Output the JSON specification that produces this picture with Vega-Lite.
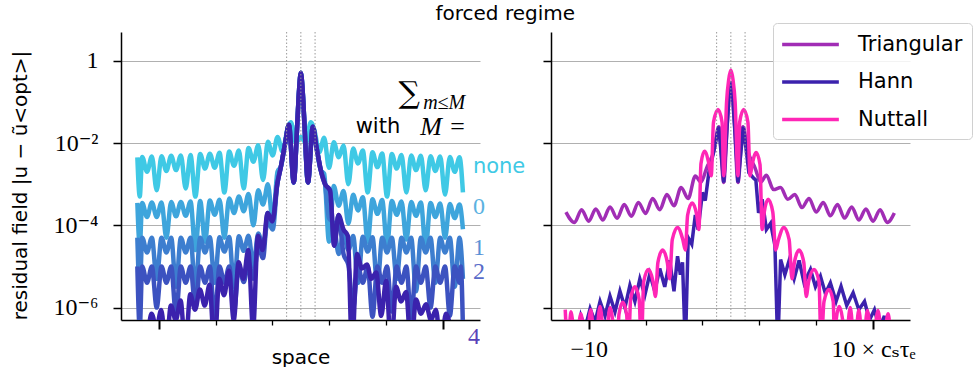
{
"$schema":"https://vega.github.io/schema/vega-lite/v6.json",
"background":"white",
"padding":{"left":10,"top":3,"right":0,"bottom":0},
"title":{"text":"forced regime","font":"DejaVu Sans","fontSize":20,"fontWeight":"normal","color":"black","anchor":"middle","offset":-1,"dx":14},
"spacing":71,
"bounds":"flush",
"resolve":{"scale":{"color":"independent"}},
"config":{"view":{"stroke":null},
 "axis":{"domainColor":"black","domainWidth":1.5,"tickColor":"black","grid":false,"labelFont":"Liberation Serif, DejaVu Serif","labelFontSize":24,"labelColor":"black","titleFont":"DejaVu Sans","titleFontSize":20,"titleFontWeight":"normal","titleColor":"black","labelFlush":false,"labelOverlap":false}},
"datasets":{
"V":[{"x":-1},{"x":0},{"x":1}],
"T":[{"s":"none","x":12.1,"y":2.67e-3},{"s":"0","x":12.1,"y":2.86e-4},{"s":"1","x":12.1,"y":2.89e-5},{"s":"2","x":12.1,"y":7.15e-6},{"s":"4","x":11.75,"y":1.89e-7}],
"A":[{"t":"∑","x":7.62,"y":0.158},{"t":"m≤M","x":8.6,"y":0.095},{"t":"with","x":6.99,"y":0.0243},{"t":"M =","x":8.4,"y":0.0243}],
"L":[
{"s":"none","x":-11.5,"y":4.5e-3},{"s":"none","x":-11.33,"y":5.0e-4},{"s":"none","x":-11.16,"y":4.6e-3},{"s":"none","x":-10.82,"y":2.0e-3},{"s":"none","x":-10.48,"y":4.7e-3},{"s":"none","x":-10.14,"y":7.1e-4},{"s":"none","x":-9.8,"y":4.8e-3},{"s":"none","x":-9.46,"y":2.1e-3},{"s":"none","x":-9.12,"y":4.9e-3},{"s":"none","x":-8.78,"y":2.2e-3},{"s":"none","x":-8.44,"y":5.0e-3},{"s":"none","x":-8.1,"y":7.9e-4},{"s":"none","x":-7.76,"y":5.1e-3},{"s":"none","x":-7.42,"y":5.0e-4},{"s":"none","x":-7.08,"y":5.4e-3},{"s":"none","x":-6.74,"y":2.4e-3},{"s":"none","x":-6.4,"y":5.5e-3},{"s":"none","x":-6.06,"y":2.5e-3},{"s":"none","x":-5.72,"y":5.8e-3},{"s":"none","x":-5.38,"y":6.3e-4},{"s":"none","x":-5.04,"y":6.2e-3},{"s":"none","x":-4.7,"y":2.8e-3},{"s":"none","x":-4.36,"y":6.6e-3},{"s":"none","x":-4.02,"y":7.9e-4},{"s":"none","x":-3.68,"y":7.6e-3},{"s":"none","x":-3.34,"y":3.5e-3},{"s":"none","x":-3.0,"y":8.9e-3},{"s":"none","x":-2.66,"y":1.26e-3},{"s":"none","x":-2.32,"y":1.07e-2},{"s":"none","x":-1.98,"y":5.0e-3},{"s":"none","x":-1.64,"y":1.41e-2},{"s":"none","x":-1.3,"y":6.3e-3},{"s":"none","x":-0.96,"y":2.0e-2},{"s":"none","x":-0.7,"y":3.2e-2},{"s":"none","x":-0.35,"y":1.0e-2},{"s":"none","x":0,"y":1.4e-2},{"s":"none","x":0.35,"y":1.0e-2},{"s":"none","x":0.7,"y":3.2e-2},{"s":"none","x":0.96,"y":2.0e-2},{"s":"none","x":1.3,"y":6.0e-3},{"s":"none","x":1.64,"y":1.35e-2},{"s":"none","x":1.98,"y":2.5e-3},{"s":"none","x":2.32,"y":1.05e-2},{"s":"none","x":2.66,"y":4.5e-3},{"s":"none","x":3.0,"y":8.7e-3},{"s":"none","x":3.34,"y":1.0e-3},{"s":"none","x":3.68,"y":7.4e-3},{"s":"none","x":4.02,"y":3.2e-3},{"s":"none","x":4.36,"y":6.6e-3},{"s":"none","x":4.7,"y":6.3e-4},{"s":"none","x":5.04,"y":6.0e-3},{"s":"none","x":5.38,"y":2.6e-3},{"s":"none","x":5.72,"y":5.6e-3},{"s":"none","x":6.06,"y":5.0e-4},{"s":"none","x":6.4,"y":5.4e-3},{"s":"none","x":6.74,"y":2.4e-3},{"s":"none","x":7.08,"y":5.1e-3},{"s":"none","x":7.42,"y":6.3e-4},{"s":"none","x":7.76,"y":5.0e-3},{"s":"none","x":8.1,"y":2.2e-3},{"s":"none","x":8.44,"y":4.9e-3},{"s":"none","x":8.78,"y":7.1e-4},{"s":"none","x":9.12,"y":4.8e-3},{"s":"none","x":9.46,"y":2.1e-3},{"s":"none","x":9.8,"y":4.7e-3},{"s":"none","x":10.14,"y":5.6e-4},{"s":"none","x":10.48,"y":4.6e-3},{"s":"none","x":10.82,"y":2.0e-3},{"s":"none","x":11.16,"y":4.5e-3},{"s":"none","x":11.4,"y":6.3e-4},
{"s":"0","x":-11.5,"y":3.5e-4},{"s":"0","x":-11.33,"y":3.2e-5},{"s":"0","x":-11.16,"y":3.5e-4},{"s":"0","x":-10.82,"y":1.6e-4},{"s":"0","x":-10.48,"y":3.6e-4},{"s":"0","x":-10.14,"y":1.6e-4},{"s":"0","x":-9.8,"y":3.6e-4},{"s":"0","x":-9.46,"y":5.0e-5},{"s":"0","x":-9.12,"y":3.7e-4},{"s":"0","x":-8.78,"y":1.66e-4},{"s":"0","x":-8.44,"y":3.7e-4},{"s":"0","x":-8.1,"y":1.7e-4},{"s":"0","x":-7.76,"y":3.8e-4},{"s":"0","x":-7.42,"y":2.5e-5},{"s":"0","x":-7.08,"y":3.9e-4},{"s":"0","x":-6.74,"y":4.0e-5},{"s":"0","x":-6.4,"y":4.0e-4},{"s":"0","x":-6.06,"y":1.8e-4},{"s":"0","x":-5.72,"y":4.2e-4},{"s":"0","x":-5.38,"y":5.0e-5},{"s":"0","x":-5.04,"y":4.5e-4},{"s":"0","x":-4.7,"y":2.0e-4},{"s":"0","x":-4.36,"y":5.0e-4},{"s":"0","x":-4.02,"y":2.2e-4},{"s":"0","x":-3.68,"y":5.8e-4},{"s":"0","x":-3.34,"y":1.0e-4},{"s":"0","x":-3.0,"y":7.1e-4},{"s":"0","x":-2.66,"y":3.2e-4},{"s":"0","x":-2.32,"y":1.0e-3},{"s":"0","x":-1.98,"y":1.26e-4},{"s":"0","x":-1.64,"y":2.0e-3},{"s":"0","x":-1.4,"y":2.7e-3},{"s":"0","x":-1.1,"y":1.0e-2},{"s":"0","x":-0.84,"y":2.8e-2},{"s":"0","x":-0.5,"y":1.1e-3},{"s":"0","x":-0.25,"y":3.0e-2},{"s":"0","x":-0.12,"y":0.2},{"s":"0","x":0,"y":0.51},{"s":"0","x":0.12,"y":0.2},{"s":"0","x":0.25,"y":3.0e-2},{"s":"0","x":0.5,"y":1.1e-3},{"s":"0","x":0.84,"y":2.5e-2},{"s":"0","x":1.1,"y":7.9e-3},{"s":"0","x":1.4,"y":2.2e-3},{"s":"0","x":1.64,"y":1.8e-3},{"s":"0","x":1.98,"y":4.0e-5},{"s":"0","x":2.32,"y":9.0e-4},{"s":"0","x":2.66,"y":3.0e-4},{"s":"0","x":3.0,"y":6.8e-4},{"s":"0","x":3.34,"y":1.1e-4},{"s":"0","x":3.68,"y":5.5e-4},{"s":"0","x":4.02,"y":2.3e-4},{"s":"0","x":4.36,"y":4.8e-4},{"s":"0","x":4.7,"y":4.0e-5},{"s":"0","x":5.04,"y":4.3e-4},{"s":"0","x":5.38,"y":1.9e-4},{"s":"0","x":5.72,"y":4.1e-4},{"s":"0","x":6.06,"y":3.2e-5},{"s":"0","x":6.4,"y":3.9e-4},{"s":"0","x":6.74,"y":1.8e-4},{"s":"0","x":7.08,"y":3.8e-4},{"s":"0","x":7.42,"y":4.5e-5},{"s":"0","x":7.76,"y":3.7e-4},{"s":"0","x":8.1,"y":1.7e-4},{"s":"0","x":8.44,"y":3.6e-4},{"s":"0","x":8.78,"y":2.8e-5},{"s":"0","x":9.12,"y":3.5e-4},{"s":"0","x":9.46,"y":1.6e-4},{"s":"0","x":9.8,"y":3.4e-4},{"s":"0","x":10.14,"y":5.0e-5},{"s":"0","x":10.48,"y":3.3e-4},{"s":"0","x":10.82,"y":1.5e-4},{"s":"0","x":11.16,"y":3.2e-4},{"s":"0","x":11.4,"y":8.0e-5},
{"s":"1","x":-11.5,"y":5.0e-5},{"s":"1","x":-11.33,"y":2.5e-6},{"s":"1","x":-11.16,"y":5.0e-5},{"s":"1","x":-10.82,"y":2.2e-5},{"s":"1","x":-10.48,"y":5.0e-5},{"s":"1","x":-10.14,"y":5.0e-6},{"s":"1","x":-9.8,"y":5.0e-5},{"s":"1","x":-9.46,"y":2.2e-5},{"s":"1","x":-9.12,"y":5.0e-5},{"s":"1","x":-8.78,"y":3.2e-6},{"s":"1","x":-8.44,"y":5.0e-5},{"s":"1","x":-8.1,"y":2.2e-5},{"s":"1","x":-7.76,"y":5.0e-5},{"s":"1","x":-7.42,"y":2.5e-6},{"s":"1","x":-7.08,"y":5.0e-5},{"s":"1","x":-6.74,"y":2.2e-5},{"s":"1","x":-6.4,"y":5.1e-5},{"s":"1","x":-6.06,"y":4.0e-6},{"s":"1","x":-5.72,"y":5.1e-5},{"s":"1","x":-5.38,"y":2.3e-5},{"s":"1","x":-5.04,"y":5.2e-5},{"s":"1","x":-4.7,"y":3.2e-6},{"s":"1","x":-4.36,"y":5.4e-5},{"s":"1","x":-4.02,"y":2.4e-5},{"s":"1","x":-3.68,"y":5.6e-5},{"s":"1","x":-3.34,"y":1.0e-5},{"s":"1","x":-3.0,"y":6.3e-5},{"s":"1","x":-2.66,"y":3.2e-5},{"s":"1","x":-2.32,"y":1.26e-4},{"s":"1","x":-1.98,"y":7.9e-5},{"s":"1","x":-1.66,"y":1.0e-3},{"s":"1","x":-1.4,"y":2.7e-3},{"s":"1","x":-1.1,"y":1.0e-2},{"s":"1","x":-0.84,"y":2.8e-2},{"s":"1","x":-0.5,"y":1.1e-3},{"s":"1","x":-0.25,"y":3.0e-2},{"s":"1","x":-0.12,"y":0.2},{"s":"1","x":0,"y":0.51},{"s":"1","x":0.12,"y":0.2},{"s":"1","x":0.25,"y":3.0e-2},{"s":"1","x":0.5,"y":1.1e-3},{"s":"1","x":0.84,"y":2.5e-2},{"s":"1","x":1.1,"y":7.9e-3},{"s":"1","x":1.4,"y":2.2e-3},{"s":"1","x":1.7,"y":1.0e-3},{"s":"1","x":1.98,"y":1.5e-4},{"s":"1","x":2.32,"y":1.1e-4},{"s":"1","x":2.66,"y":2.0e-5},{"s":"1","x":3.0,"y":6.0e-5},{"s":"1","x":3.34,"y":2.5e-5},{"s":"1","x":3.68,"y":5.5e-5},{"s":"1","x":4.02,"y":4.0e-6},{"s":"1","x":4.36,"y":5.3e-5},{"s":"1","x":4.7,"y":2.3e-5},{"s":"1","x":5.04,"y":5.1e-5},{"s":"1","x":5.38,"y":3.2e-6},{"s":"1","x":5.72,"y":5.0e-5},{"s":"1","x":6.06,"y":2.2e-5},{"s":"1","x":6.4,"y":5.0e-5},{"s":"1","x":6.74,"y":5.0e-6},{"s":"1","x":7.08,"y":5.0e-5},{"s":"1","x":7.42,"y":2.2e-5},{"s":"1","x":7.76,"y":5.0e-5},{"s":"1","x":8.1,"y":2.5e-6},{"s":"1","x":8.44,"y":5.0e-5},{"s":"1","x":8.78,"y":2.2e-5},{"s":"1","x":9.12,"y":5.0e-5},{"s":"1","x":9.46,"y":4.0e-6},{"s":"1","x":9.8,"y":5.0e-5},{"s":"1","x":10.14,"y":2.2e-5},{"s":"1","x":10.48,"y":5.0e-5},{"s":"1","x":10.82,"y":3.2e-6},{"s":"1","x":11.16,"y":5.0e-5},{"s":"1","x":11.4,"y":5.0e-6},
{"s":"2","x":-11.5,"y":1.0e-5},{"s":"2","x":-11.33,"y":3.2e-7},{"s":"2","x":-11.16,"y":1.0e-5},{"s":"2","x":-10.82,"y":4.0e-6},{"s":"2","x":-10.48,"y":1.0e-5},{"s":"2","x":-10.14,"y":1.0e-6},{"s":"2","x":-9.8,"y":1.0e-5},{"s":"2","x":-9.46,"y":4.0e-6},{"s":"2","x":-9.12,"y":1.0e-5},{"s":"2","x":-8.78,"y":6.3e-7},{"s":"2","x":-8.44,"y":1.0e-5},{"s":"2","x":-8.1,"y":4.0e-6},{"s":"2","x":-7.76,"y":1.0e-5},{"s":"2","x":-7.42,"y":1.0e-6},{"s":"2","x":-7.08,"y":1.0e-5},{"s":"2","x":-6.74,"y":4.0e-6},{"s":"2","x":-6.4,"y":1.0e-5},{"s":"2","x":-6.06,"y":5.0e-7},{"s":"2","x":-5.72,"y":1.0e-5},{"s":"2","x":-5.38,"y":4.0e-6},{"s":"2","x":-5.04,"y":1.0e-5},{"s":"2","x":-4.7,"y":8.0e-7},{"s":"2","x":-4.36,"y":1.05e-5},{"s":"2","x":-4.02,"y":4.2e-6},{"s":"2","x":-3.68,"y":1.26e-5},{"s":"2","x":-3.34,"y":5.0e-6},{"s":"2","x":-3.0,"y":3.2e-5},{"s":"2","x":-2.66,"y":1.6e-5},{"s":"2","x":-2.34,"y":2.0e-4},{"s":"2","x":-2.0,"y":1.26e-4},{"s":"2","x":-1.66,"y":1.0e-3},{"s":"2","x":-1.4,"y":2.7e-3},{"s":"2","x":-1.1,"y":1.0e-2},{"s":"2","x":-0.84,"y":2.8e-2},{"s":"2","x":-0.5,"y":1.1e-3},{"s":"2","x":-0.25,"y":3.0e-2},{"s":"2","x":-0.12,"y":0.2},{"s":"2","x":0,"y":0.51},{"s":"2","x":0.12,"y":0.2},{"s":"2","x":0.25,"y":3.0e-2},{"s":"2","x":0.5,"y":1.1e-3},{"s":"2","x":0.84,"y":2.5e-2},{"s":"2","x":1.1,"y":7.9e-3},{"s":"2","x":1.4,"y":2.2e-3},{"s":"2","x":1.7,"y":1.0e-3},{"s":"2","x":2.05,"y":7.1e-4},{"s":"2","x":2.35,"y":3.2e-5},{"s":"2","x":2.65,"y":1.78e-4},{"s":"2","x":3.0,"y":2.0e-5},{"s":"2","x":3.34,"y":1.1e-5},{"s":"2","x":3.68,"y":1.0e-6},{"s":"2","x":4.02,"y":1.0e-5},{"s":"2","x":4.36,"y":4.0e-6},{"s":"2","x":4.7,"y":1.0e-5},{"s":"2","x":5.04,"y":6.0e-7},{"s":"2","x":5.38,"y":1.0e-5},{"s":"2","x":5.72,"y":4.0e-6},{"s":"2","x":6.06,"y":1.0e-5},{"s":"2","x":6.4,"y":8.0e-7},{"s":"2","x":6.74,"y":1.0e-5},{"s":"2","x":7.08,"y":4.0e-6},{"s":"2","x":7.42,"y":1.0e-5},{"s":"2","x":7.76,"y":5.0e-7},{"s":"2","x":8.1,"y":1.0e-5},{"s":"2","x":8.44,"y":4.0e-6},{"s":"2","x":8.78,"y":1.0e-5},{"s":"2","x":9.12,"y":1.0e-6},{"s":"2","x":9.46,"y":1.0e-5},{"s":"2","x":9.8,"y":4.0e-6},{"s":"2","x":10.14,"y":1.0e-5},{"s":"2","x":10.48,"y":6.3e-7},{"s":"2","x":10.82,"y":1.0e-5},{"s":"2","x":11.16,"y":4.0e-6},{"s":"2","x":11.25,"y":1.0e-5},{"s":"2","x":11.4,"y":3.2e-7},
{"s":"4","x":-10.8,"y":1.26e-7},{"s":"4","x":-10.5,"y":7.1e-7},{"s":"4","x":-10.16,"y":3.2e-7},{"s":"4","x":-9.82,"y":8.7e-7},{"s":"4","x":-9.48,"y":1.0e-7},{"s":"4","x":-9.14,"y":1.12e-6},{"s":"4","x":-8.8,"y":5.0e-7},{"s":"4","x":-8.46,"y":1.48e-6},{"s":"4","x":-8.12,"y":1.0e-7},{"s":"4","x":-7.78,"y":2.1e-6},{"s":"4","x":-7.44,"y":8.9e-7},{"s":"4","x":-7.1,"y":2.75e-6},{"s":"4","x":-6.76,"y":1.12e-6},{"s":"4","x":-6.42,"y":3.6e-6},{"s":"4","x":-6.08,"y":1.0e-7},{"s":"4","x":-5.74,"y":5.0e-6},{"s":"4","x":-5.4,"y":2.0e-6},{"s":"4","x":-5.06,"y":7.9e-6},{"s":"4","x":-4.72,"y":5.0e-7},{"s":"4","x":-4.38,"y":1.26e-5},{"s":"4","x":-4.04,"y":5.0e-6},{"s":"4","x":-3.7,"y":2.5e-5},{"s":"4","x":-3.36,"y":3.2e-7},{"s":"4","x":-3.02,"y":5.6e-5},{"s":"4","x":-2.68,"y":2.5e-5},{"s":"4","x":-2.34,"y":2.0e-4},{"s":"4","x":-2.0,"y":1.26e-4},{"s":"4","x":-1.66,"y":1.0e-3},{"s":"4","x":-1.4,"y":2.7e-3},{"s":"4","x":-1.1,"y":1.0e-2},{"s":"4","x":-0.84,"y":2.8e-2},{"s":"4","x":-0.5,"y":1.1e-3},{"s":"4","x":-0.25,"y":3.0e-2},{"s":"4","x":-0.12,"y":0.2},{"s":"4","x":0,"y":0.51},{"s":"4","x":0.12,"y":0.2},{"s":"4","x":0.25,"y":3.0e-2},{"s":"4","x":0.5,"y":1.1e-3},{"s":"4","x":0.84,"y":2.5e-2},{"s":"4","x":1.1,"y":7.9e-3},{"s":"4","x":1.4,"y":2.2e-3},{"s":"4","x":1.7,"y":1.0e-3},{"s":"4","x":2.05,"y":7.1e-4},{"s":"4","x":2.35,"y":3.2e-5},{"s":"4","x":2.65,"y":1.78e-4},{"s":"4","x":3.0,"y":7.9e-5},{"s":"4","x":3.3,"y":5.6e-5},{"s":"4","x":3.6,"y":1.0e-7},{"s":"4","x":3.95,"y":2.0e-5},{"s":"4","x":4.3,"y":8.9e-6},{"s":"4","x":4.65,"y":1.12e-5},{"s":"4","x":4.95,"y":5.0e-6},{"s":"4","x":5.3,"y":7.1e-6},{"s":"4","x":5.65,"y":6.3e-7},{"s":"4","x":6.0,"y":4.5e-6},{"s":"4","x":6.35,"y":1.0e-7},{"s":"4","x":6.7,"y":3.2e-6},{"s":"4","x":7.05,"y":1.41e-6},{"s":"4","x":7.4,"y":2.4e-6},{"s":"4","x":7.75,"y":1.0e-7},{"s":"4","x":8.1,"y":1.58e-6},{"s":"4","x":8.45,"y":7.1e-7},{"s":"4","x":8.8,"y":1.2e-6},{"s":"4","x":9.15,"y":5.0e-7},{"s":"4","x":9.5,"y":8.9e-7},{"s":"4","x":9.85,"y":1.0e-7},{"s":"4","x":10.2,"y":7.1e-7},{"s":"4","x":10.55,"y":3.2e-7},{"s":"4","x":10.8,"y":1.26e-7}
],
"R":[
{"s":"Triangular","x":-11.6,"y":2.1e-4},{"s":"Triangular","x":-11.0,"y":1.17e-4},{"s":"Triangular","x":-10.5,"y":2.4e-4},{"s":"Triangular","x":-10.0,"y":1.26e-4},{"s":"Triangular","x":-9.5,"y":2.5e-4},{"s":"Triangular","x":-9.0,"y":1.35e-4},{"s":"Triangular","x":-8.5,"y":2.8e-4},{"s":"Triangular","x":-8.0,"y":1.48e-4},{"s":"Triangular","x":-7.5,"y":3.2e-4},{"s":"Triangular","x":-7.0,"y":1.66e-4},{"s":"Triangular","x":-6.5,"y":3.6e-4},{"s":"Triangular","x":-6.0,"y":1.95e-4},{"s":"Triangular","x":-5.5,"y":4.5e-4},{"s":"Triangular","x":-5.0,"y":2.4e-4},{"s":"Triangular","x":-4.5,"y":5.6e-4},{"s":"Triangular","x":-4.0,"y":3.0e-4},{"s":"Triangular","x":-3.5,"y":8.3e-4},{"s":"Triangular","x":-3.0,"y":4.5e-4},{"s":"Triangular","x":-2.5,"y":1.58e-3},{"s":"Triangular","x":-2.1,"y":1.12e-3},{"s":"Triangular","x":-1.7,"y":2.5e-3},{"s":"Triangular","x":-1.2,"y":6.3e-3},{"s":"Triangular","x":-0.85,"y":2.5e-2},{"s":"Triangular","x":-0.5,"y":1.1e-3},{"s":"Triangular","x":-0.25,"y":3.0e-2},{"s":"Triangular","x":0,"y":0.3},{"s":"Triangular","x":0.25,"y":3.0e-2},{"s":"Triangular","x":0.5,"y":1.1e-3},{"s":"Triangular","x":0.85,"y":2.5e-2},{"s":"Triangular","x":1.2,"y":6.3e-3},{"s":"Triangular","x":1.7,"y":2.5e-3},{"s":"Triangular","x":2.1,"y":1.12e-3},{"s":"Triangular","x":2.5,"y":1.66e-3},{"s":"Triangular","x":3.0,"y":7.4e-4},{"s":"Triangular","x":3.5,"y":8.3e-4},{"s":"Triangular","x":4.0,"y":4.3e-4},{"s":"Triangular","x":4.5,"y":5.6e-4},{"s":"Triangular","x":5.0,"y":2.7e-4},{"s":"Triangular","x":5.5,"y":4.5e-4},{"s":"Triangular","x":6.0,"y":2.1e-4},{"s":"Triangular","x":6.5,"y":3.6e-4},{"s":"Triangular","x":7.0,"y":1.7e-4},{"s":"Triangular","x":7.5,"y":3.2e-4},{"s":"Triangular","x":8.0,"y":1.5e-4},{"s":"Triangular","x":8.5,"y":2.8e-4},{"s":"Triangular","x":9.0,"y":1.35e-4},{"s":"Triangular","x":9.5,"y":2.5e-4},{"s":"Triangular","x":10.0,"y":1.26e-4},{"s":"Triangular","x":10.5,"y":2.4e-4},{"s":"Triangular","x":11.0,"y":1.17e-4},{"s":"Triangular","x":11.5,"y":2.0e-4},
{"s":"Hann","x":-10.9,"y":1.26e-7},{"s":"Hann","x":-10.55,"y":6.3e-7},{"s":"Hann","x":-10.25,"y":3.2e-7},{"s":"Hann","x":-9.9,"y":9.5e-7},{"s":"Hann","x":-9.55,"y":4.5e-7},{"s":"Hann","x":-9.2,"y":1.41e-6},{"s":"Hann","x":-8.85,"y":6.3e-7},{"s":"Hann","x":-8.5,"y":1.9e-6},{"s":"Hann","x":-8.15,"y":7.9e-7},{"s":"Hann","x":-7.8,"y":2.5e-6},{"s":"Hann","x":-7.45,"y":1.0e-6},{"s":"Hann","x":-7.1,"y":3.5e-6},{"s":"Hann","x":-6.75,"y":1.41e-6},{"s":"Hann","x":-6.4,"y":5.0e-6},{"s":"Hann","x":-6.05,"y":2.0e-6},{"s":"Hann","x":-5.7,"y":6.6e-6},{"s":"Hann","x":-5.35,"y":2.5e-6},{"s":"Hann","x":-5.0,"y":8.9e-6},{"s":"Hann","x":-4.65,"y":3.2e-6},{"s":"Hann","x":-4.3,"y":1.41e-5},{"s":"Hann","x":-4.0,"y":2.5e-6},{"s":"Hann","x":-3.75,"y":1.78e-5},{"s":"Hann","x":-3.55,"y":6.3e-6},{"s":"Hann","x":-3.4,"y":1.26e-5},{"s":"Hann","x":-3.2,"y":1.0e-7},{"s":"Hann","x":-3.0,"y":5.0e-5},{"s":"Hann","x":-2.75,"y":3.5e-5},{"s":"Hann","x":-2.5,"y":1.78e-4},{"s":"Hann","x":-2.3,"y":7.9e-5},{"s":"Hann","x":-2.0,"y":6.3e-4},{"s":"Hann","x":-1.8,"y":4.0e-4},{"s":"Hann","x":-1.55,"y":1.9e-3},{"s":"Hann","x":-1.2,"y":6.3e-3},{"s":"Hann","x":-0.85,"y":2.5e-2},{"s":"Hann","x":-0.5,"y":1.1e-3},{"s":"Hann","x":-0.25,"y":3.0e-2},{"s":"Hann","x":-0.12,"y":0.15},{"s":"Hann","x":0,"y":0.32},{"s":"Hann","x":0.12,"y":0.15},{"s":"Hann","x":0.25,"y":3.0e-2},{"s":"Hann","x":0.5,"y":1.1e-3},{"s":"Hann","x":0.88,"y":2.5e-2},{"s":"Hann","x":1.27,"y":1.9e-3},{"s":"Hann","x":1.6,"y":1.4e-3},{"s":"Hann","x":1.76,"y":1.26e-3},{"s":"Hann","x":1.95,"y":2.0e-4},{"s":"Hann","x":2.2,"y":4.3e-4},{"s":"Hann","x":2.5,"y":7.9e-5},{"s":"Hann","x":2.8,"y":1.12e-4},{"s":"Hann","x":3.1,"y":3.2e-5},{"s":"Hann","x":3.3,"y":1.0e-7},{"s":"Hann","x":3.5,"y":1.48e-5},{"s":"Hann","x":3.8,"y":6.3e-6},{"s":"Hann","x":4.1,"y":1.41e-5},{"s":"Hann","x":4.45,"y":5.0e-6},{"s":"Hann","x":4.8,"y":1.41e-5},{"s":"Hann","x":5.15,"y":4.0e-6},{"s":"Hann","x":5.6,"y":8.5e-6},{"s":"Hann","x":5.95,"y":3.2e-6},{"s":"Hann","x":6.3,"y":5.8e-6},{"s":"Hann","x":6.65,"y":2.2e-6},{"s":"Hann","x":7.0,"y":4.0e-6},{"s":"Hann","x":7.4,"y":1.41e-6},{"s":"Hann","x":7.75,"y":3.3e-6},{"s":"Hann","x":8.15,"y":1.12e-6},{"s":"Hann","x":8.6,"y":2.3e-6},{"s":"Hann","x":9.0,"y":8.9e-7},{"s":"Hann","x":9.4,"y":1.41e-6},{"s":"Hann","x":9.75,"y":5.0e-7},{"s":"Hann","x":10.1,"y":8.9e-7},{"s":"Hann","x":10.45,"y":3.2e-7},{"s":"Hann","x":10.8,"y":6.3e-7},{"s":"Hann","x":11.0,"y":1.26e-7},
{"s":"Nuttall","x":-11.65,"y":8.9e-7},{"s":"Nuttall","x":-11.45,"y":1.0e-7},{"s":"Nuttall","x":-11.25,"y":7.9e-7},{"s":"Nuttall","x":-10.9,"y":1.0e-7},{"s":"Nuttall","x":-10.55,"y":7.1e-7},{"s":"Nuttall","x":-10.2,"y":1.0e-7},{"s":"Nuttall","x":-9.85,"y":8.9e-7},{"s":"Nuttall","x":-9.55,"y":1.0e-7},{"s":"Nuttall","x":-9.2,"y":1.07e-6},{"s":"Nuttall","x":-8.85,"y":1.0e-7},{"s":"Nuttall","x":-8.5,"y":1.0e-6},{"s":"Nuttall","x":-8.0,"y":1.0e-7},{"s":"Nuttall","x":-7.87,"y":6.8e-7},{"s":"Nuttall","x":-7.6,"y":1.35e-6},{"s":"Nuttall","x":-7.33,"y":6.8e-7},{"s":"Nuttall","x":-7.2,"y":1.0e-7},{"s":"Nuttall","x":-7.05,"y":1.6e-6},{"s":"Nuttall","x":-6.75,"y":3.2e-6},{"s":"Nuttall","x":-6.45,"y":1.6e-6},{"s":"Nuttall","x":-6.3,"y":1.0e-7},{"s":"Nuttall","x":-6.13,"y":4.3e-6},{"s":"Nuttall","x":-5.8,"y":8.5e-6},{"s":"Nuttall","x":-5.47,"y":4.3e-6},{"s":"Nuttall","x":-5.3,"y":1.86e-6},{"s":"Nuttall","x":-5.13,"y":1.26e-5},{"s":"Nuttall","x":-4.8,"y":2.5e-5},{"s":"Nuttall","x":-4.47,"y":1.26e-5},{"s":"Nuttall","x":-4.3,"y":5.0e-6},{"s":"Nuttall","x":-4.12,"y":4.5e-5},{"s":"Nuttall","x":-3.75,"y":8.9e-5},{"s":"Nuttall","x":-3.38,"y":4.5e-5},{"s":"Nuttall","x":-3.2,"y":2.5e-5},{"s":"Nuttall","x":-3.04,"y":1.78e-4},{"s":"Nuttall","x":-2.72,"y":3.5e-4},{"s":"Nuttall","x":-2.4,"y":1.78e-4},{"s":"Nuttall","x":-2.25,"y":7.9e-5},{"s":"Nuttall","x":-2.1,"y":3.2e-3},{"s":"Nuttall","x":-1.85,"y":6.3e-3},{"s":"Nuttall","x":-1.55,"y":3.2e-3},{"s":"Nuttall","x":-1.38,"y":1.6e-3},{"s":"Nuttall","x":-1.22,"y":3.2e-2},{"s":"Nuttall","x":-0.9,"y":6.5e-2},{"s":"Nuttall","x":-0.62,"y":3.2e-2},{"s":"Nuttall","x":-0.5,"y":1.6e-3},{"s":"Nuttall","x":-0.3,"y":0.1},{"s":"Nuttall","x":-0.15,"y":0.35},{"s":"Nuttall","x":0,"y":0.6},{"s":"Nuttall","x":0.15,"y":0.35},{"s":"Nuttall","x":0.3,"y":0.1},{"s":"Nuttall","x":0.5,"y":1.6e-3},{"s":"Nuttall","x":0.62,"y":3.2e-2},{"s":"Nuttall","x":0.9,"y":6.5e-2},{"s":"Nuttall","x":1.2,"y":3.2e-2},{"s":"Nuttall","x":1.35,"y":1.6e-3},{"s":"Nuttall","x":1.5,"y":3.0e-3},{"s":"Nuttall","x":1.78,"y":5.9e-3},{"s":"Nuttall","x":2.05,"y":3.0e-3},{"s":"Nuttall","x":2.2,"y":7.9e-5},{"s":"Nuttall","x":2.35,"y":2.1e-4},{"s":"Nuttall","x":2.62,"y":4.3e-4},{"s":"Nuttall","x":2.95,"y":2.1e-4},{"s":"Nuttall","x":3.15,"y":2.5e-5},{"s":"Nuttall","x":3.35,"y":4.5e-5},{"s":"Nuttall","x":3.73,"y":8.9e-5},{"s":"Nuttall","x":4.1,"y":4.5e-5},{"s":"Nuttall","x":4.3,"y":5.0e-6},{"s":"Nuttall","x":4.47,"y":1.26e-5},{"s":"Nuttall","x":4.8,"y":2.5e-5},{"s":"Nuttall","x":5.13,"y":1.26e-5},{"s":"Nuttall","x":5.3,"y":1.86e-6},{"s":"Nuttall","x":5.47,"y":4.3e-6},{"s":"Nuttall","x":5.85,"y":8.5e-6},{"s":"Nuttall","x":6.2,"y":4.3e-6},{"s":"Nuttall","x":6.35,"y":1.0e-7},{"s":"Nuttall","x":6.55,"y":1.4e-6},{"s":"Nuttall","x":6.9,"y":2.75e-6},{"s":"Nuttall","x":7.2,"y":1.4e-6},{"s":"Nuttall","x":7.3,"y":1.0e-7},{"s":"Nuttall","x":7.42,"y":5.4e-7},{"s":"Nuttall","x":7.62,"y":1.07e-6},{"s":"Nuttall","x":7.85,"y":5.4e-7},{"s":"Nuttall","x":8.05,"y":1.0e-7},{"s":"Nuttall","x":8.4,"y":1.0e-6},{"s":"Nuttall","x":8.7,"y":1.0e-7},{"s":"Nuttall","x":9.0,"y":8.9e-7},{"s":"Nuttall","x":9.3,"y":1.0e-7},{"s":"Nuttall","x":9.6,"y":8.5e-7},{"s":"Nuttall","x":9.95,"y":1.0e-7},{"s":"Nuttall","x":10.35,"y":8.5e-7},{"s":"Nuttall","x":10.7,"y":1.0e-7},{"s":"Nuttall","x":11.05,"y":7.1e-7},{"s":"Nuttall","x":11.3,"y":1.0e-7}
]},
"hconcat":[
{"width":359,"height":288,
 "layer":[
  {"data":{"name":"L"},"mark":{"type":"line","strokeWidth":4.5,"clip":true,"interpolate":"monotone"},
   "encoding":{
    "x":{"field":"x","type":"quantitative","scale":{"domain":[-12.65,12.6],"nice":false,"zero":false},
      "axis":{"values":[-10,-9,-8,-7,-6,-5,-4,-3,-2,-1,0,1,2,3,4,5,6,7,8,9,10],"labels":false,"title":"space","titlePadding":17,
        "tickSize":{"condition":{"test":"datum.value % 10 === 0","value":9},"value":5},
        "tickWidth":{"condition":{"test":"datum.value % 10 === 0","value":2},"value":1.3}}},
    "y":{"field":"y","type":"quantitative","scale":{"type":"log","domain":[5e-7,5],"nice":false},
      "axis":{"values":[1e-6,1e-4,1e-2,1],"labelExpr":"datum.value >= 0.5 ? '1' : datum.value >= 0.005 ? '10⁻²' : datum.value >= 5e-5 ? '10⁻⁴' : '10⁻⁶'",
        "grid":true,"gridColor":"#b0b0b0","gridWidth":1,"tickSize":8,"tickWidth":1.5,"labelPadding":15,
        "title":"residual field |u − ũ<opt>|","titleX":-95,"titleY":153,"titleBaseline":"alphabetic"}},
    "color":{"field":"s","type":"nominal","scale":{"domain":["none","0","1","2","4"],"range":["#3fc9e5","#3ea5dc","#3d7ecf","#3c52c0","#3b22ad"]},"legend":null}}},
  {"data":{"name":"V"},"mark":{"type":"rule","color":"#9a9a9a","strokeDash":[1.5,2],"strokeWidth":1},
   "encoding":{"x":{"field":"x","type":"quantitative"}}},
  {"data":{"name":"T"},"transform":[{"filter":"datum.s === 'none'"}],"mark":{"type":"text","align":"left","baseline":"middle","font":"DejaVu Sans","fontSize":21},
   "encoding":{"x":{"field":"x","type":"quantitative"},"y":{"field":"y","type":"quantitative"},"text":{"field":"s"},"color":{"field":"s","type":"nominal","legend":null}}},
  {"data":{"name":"T"},"transform":[{"filter":"datum.s !== 'none'"}],"mark":{"type":"text","align":"left","baseline":"middle","font":"Liberation Serif, DejaVu Serif","fontSize":24,"opacity":0.85},
   "encoding":{"x":{"field":"x","type":"quantitative"},"y":{"field":"y","type":"quantitative"},"text":{"field":"s"},"color":{"field":"s","type":"nominal","legend":null}}},
  {"data":{"name":"A"},"transform":[{"filter":"datum.t === '∑'"}],"mark":{"type":"text","align":"center","baseline":"middle","font":"DejaVu Serif","fontSize":30,"color":"black"},
   "encoding":{"x":{"field":"x","type":"quantitative"},"y":{"field":"y","type":"quantitative"},"text":{"field":"t"}}},
  {"data":{"name":"A"},"transform":[{"filter":"datum.t === 'm≤M'"}],"mark":{"type":"text","align":"left","baseline":"middle","font":"Liberation Serif, DejaVu Serif","fontStyle":"italic","fontSize":20,"color":"black"},
   "encoding":{"x":{"field":"x","type":"quantitative"},"y":{"field":"y","type":"quantitative"},"text":{"field":"t"}}},
  {"data":{"name":"A"},"transform":[{"filter":"datum.t === 'with'"}],"mark":{"type":"text","align":"right","baseline":"middle","font":"DejaVu Sans","fontSize":21,"color":"black"},
   "encoding":{"x":{"field":"x","type":"quantitative"},"y":{"field":"y","type":"quantitative"},"text":{"field":"t"}}},
  {"data":{"name":"A"},"transform":[{"filter":"datum.t === 'M ='"}],"mark":{"type":"text","align":"left","baseline":"middle","font":"Liberation Serif, DejaVu Serif","fontStyle":"italic","fontSize":26,"color":"black"},
   "encoding":{"x":{"field":"x","type":"quantitative"},"y":{"field":"y","type":"quantitative"},"text":{"field":"t"}}}
 ]},
{"width":359,"height":288,
 "layer":[
  {"data":{"name":"R"},"transform":[{"filter":"datum.s === 'Triangular'"}],"mark":{"type":"line","strokeWidth":3.5,"clip":true,"interpolate":"monotone"},
   "encoding":{
    "x":{"field":"x","type":"quantitative","scale":{"domain":[-12.65,12.6],"nice":false,"zero":false},
      "axis":{"values":[-10,-9,-8,-7,-6,-5,-4,-3,-2,-1,0,1,2,3,4,5,6,7,8,9,10],"title":null,"labelPadding":8,
        "labelExpr":"datum.value === -10 ? '−10' : datum.value === 0 ? '0' : datum.value === 10 ? '10 × cₛτₑ' : ''",
        "tickSize":{"condition":{"test":"datum.value % 10 === 0","value":9},"value":5},
        "tickWidth":{"condition":{"test":"datum.value % 10 === 0","value":2},"value":1.3}}},
    "y":{"field":"y","type":"quantitative","scale":{"type":"log","domain":[5e-7,5],"nice":false},
      "axis":{"values":[1e-6,1e-4,1e-2,1],"labels":false,"grid":true,"gridColor":"#b0b0b0","gridWidth":1,"tickSize":8,"tickWidth":1.5,"title":null}},
    "color":{"field":"s","type":"nominal","scale":{"domain":["Triangular","Hann","Nuttall"],"range":["#a12db5","#3b22ad","#ff26b6"]},
      "legend":{"orient":"none","legendX":222,"legendY":-9,"title":null,"symbolType":"M-2.7,0H2.7","symbolSize":441,"symbolStrokeWidth":3.5,
        "symbolOffset":16,"labelFont":"DejaVu Sans","labelFontSize":21,"labelColor":"black","labelOffset":35,"padding":9,"rowPadding":14.5,
        "fillColor":"rgba(255,255,255,0.85)","strokeColor":"#d0d0d0","cornerRadius":4}}}},
  {"data":{"name":"R"},"transform":[{"filter":"datum.s === 'Hann'"}],"mark":{"type":"line","strokeWidth":3.5,"clip":true},
   "encoding":{"x":{"field":"x","type":"quantitative"},"y":{"field":"y","type":"quantitative"},"color":{"field":"s","type":"nominal"}}},
  {"data":{"name":"R"},"transform":[{"filter":"datum.s === 'Nuttall'"}],"mark":{"type":"line","strokeWidth":3.5,"clip":true,"interpolate":"monotone"},
   "encoding":{"x":{"field":"x","type":"quantitative"},"y":{"field":"y","type":"quantitative"},"color":{"field":"s","type":"nominal"}}},
  {"data":{"name":"V"},"mark":{"type":"rule","color":"#9a9a9a","strokeDash":[1.5,2],"strokeWidth":1},
   "encoding":{"x":{"field":"x","type":"quantitative"}}}
 ]}
]
}
